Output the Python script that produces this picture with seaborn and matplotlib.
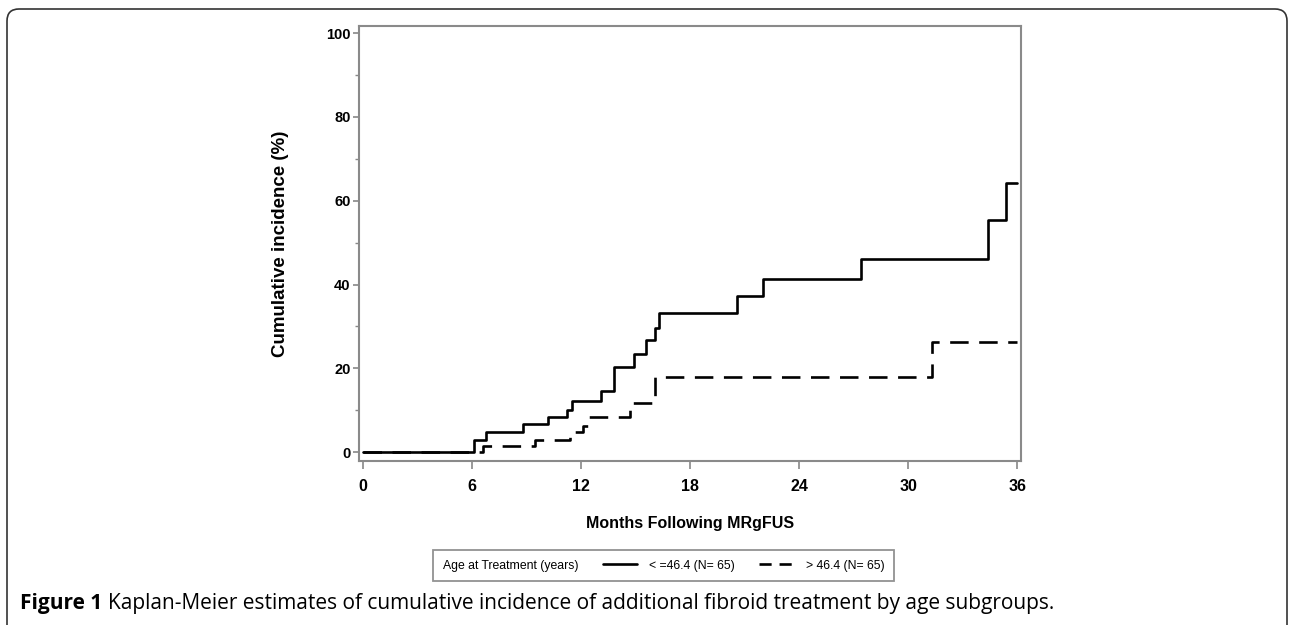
import matplotlib
matplotlib.use('Agg')
import matplotlib.pyplot as plt
from matplotlib.lines import Line2D
from matplotlib.patches import FancyBboxPatch
import seaborn as sns
import pandas as pd
import numpy as np

# step curves (months, cumulative incidence %)
young_t = [0, 6.15, 6.8, 8.8, 10.2, 11.25, 11.5, 13.1, 13.8, 14.9, 15.6, 16.05, 16.3, 20.6, 22.0, 27.4, 34.4, 35.35, 36]
young_v = [0, 3.0, 4.8, 6.7, 8.4, 10.0, 12.2, 14.6, 20.4, 23.5, 26.7, 29.7, 33.1, 37.2, 41.4, 46.2, 55.4, 64.3, 64.3]
old_t = [0, 6.6, 9.5, 11.4, 12.1, 12.4, 14.7, 16.05, 31.3, 36]
old_v = [0, 1.5, 2.9, 4.8, 6.3, 8.5, 11.7, 17.9, 26.3, 26.3]

groups = ['< =46.4 (N= 65)', '> 46.4 (N= 65)']
legend_title = 'Age at Treatment (years)'
x_ticks = [0, 6, 12, 18, 24, 30, 36]
y_ticks = [0, 20, 40, 60, 80, 100]

df = pd.concat([
    pd.DataFrame({'t': young_t, 'v': young_v, 'grp': groups[0]}),
    pd.DataFrame({'t': old_t, 'v': old_v, 'grp': groups[1]}),
])

sns.set_style('ticks')
plt.rcParams['font.family'] = ['Liberation Sans', 'DejaVu Sans']
plt.rcParams['text.color'] = 'black'
plt.rcParams['axes.labelcolor'] = 'black'

fig = plt.figure(figsize=(12.89, 6.25), dpi=100)
ax = fig.add_axes([0.2785, 0.2624, 0.5136, 0.696])

line_dash = (7, 4)
sns.lineplot(data=df, x='t', y='v', hue='grp', style='grp',
             palette=['black', 'black'], dashes=['', line_dash],
             estimator=None, sort=False, drawstyle='steps-post',
             linewidth=1.9, legend=False, ax=ax)

ax.set_xlim(-0.2, 36.2)
ax.set_ylim(-2.1, 101.7)
ax.set_xticks(x_ticks)
ax.set_yticks(y_ticks)
ax.set_yticks(np.arange(10, 100, 20), minor=True)
ax.tick_params(axis='x', labelsize=11.5, length=6, width=1.2, color='#888888',
               labelcolor='black', pad=7)
ax.tick_params(axis='y', which='major', labelsize=10.5, length=4, width=1.2,
               color='#888888', labelcolor='black', pad=2)
ax.tick_params(axis='y', which='minor', length=3, width=1.0, color='#888888')
for lab in ax.get_xticklabels() + ax.get_yticklabels():
    lab.set_fontweight('bold')
for s in ax.spines.values():
    s.set_visible(True)
    s.set_color('#8a8a8a')
    s.set_linewidth(1.5)

ax.set_xlabel('Months Following MRgFUS', fontsize=11.5, fontweight='bold', labelpad=16)
ax.set_ylabel('Cumulative incidence (%)', fontsize=13.5, fontweight='bold', labelpad=27)


class TitleHandler:
    # legend entry with no handle, used for the leading title text
    def legend_artist(self, legend, orig_handle, fontsize, handlebox):
        handlebox.width = -legend.handletextpad * fontsize
        a = Line2D([], [], linestyle='none')
        handlebox.add_artist(a)
        return a


title_handle = object()
handles = [title_handle,
           Line2D([], [], color='black', linewidth=1.9),
           Line2D([], [], color='black', linewidth=1.9, dashes=(4.6, 3.0))]
leg = fig.legend(handles, [legend_title] + groups, ncol=3, loc='center',
                 bbox_to_anchor=(0.5147, 0.0952), fontsize=8.8,
                 handler_map={title_handle: TitleHandler()},
                 frameon=True, fancybox=False, edgecolor='#777777',
                 handlelength=2.8, handletextpad=1.0, columnspacing=2.0,
                 borderpad=0.8, borderaxespad=0)
leg.get_frame().set_linewidth(1.3)

# caption
cap_font = ['Open Sans', 'DejaVu Sans']
t1 = fig.text(0.0155, 0.035, 'Figure 1', fontsize=15, fontweight='bold',
              family=cap_font, va='center', ha='left')
fig.canvas.draw()
bb = t1.get_window_extent()
x_next = (bb.x1 + 6) / fig.bbox.width
fig.text(x_next, 0.035,
         'Kaplan-Meier estimates of cumulative incidence of additional fibroid treatment by age subgroups.',
         fontsize=15, family=cap_font, va='center', ha='left')

# rounded figure border
border = FancyBboxPatch((0.07, -0.2), 12.8, 6.36,
                        boxstyle='round,pad=0,rounding_size=0.12',
                        transform=fig.dpi_scale_trans, fill=False,
                        edgecolor='#333333', linewidth=1.2)
fig.patches.append(border)

fig.savefig('out.png', dpi=100)
